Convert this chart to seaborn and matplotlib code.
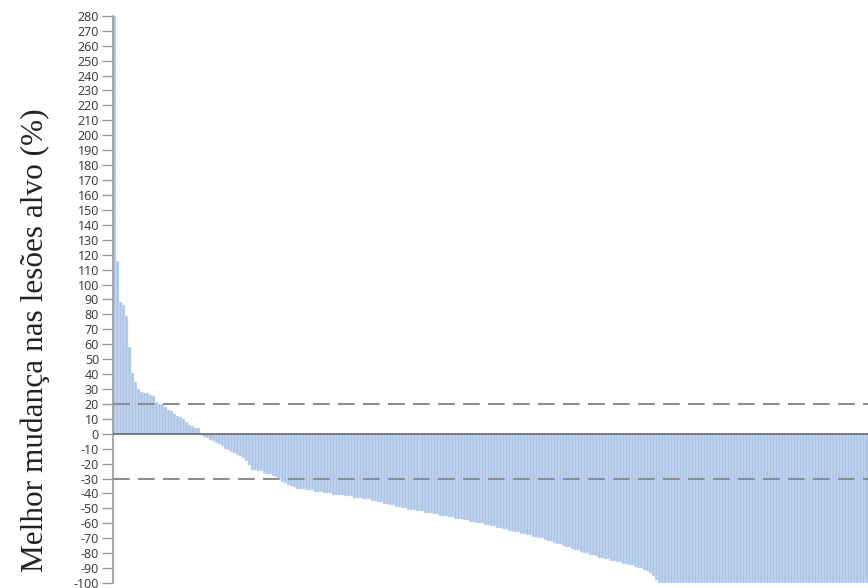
import matplotlib
matplotlib.use("Agg")
import matplotlib.pyplot as plt
import seaborn as sns
import pandas as pd
import numpy as np

# Best percentage change in target lesions, one value per patient, sorted high to low
positive_changes = [
    280, 116, 88, 86, 79, 58, 41, 35, 30, 28,
    27, 27, 26, 25, 21, 20, 20, 18, 16, 15,
    13, 12, 11, 10, 8, 6, 5, 4, 4,
]
negative_changes = [
    -1, -2, -3, -4, -5, -6, -7, -8, -10, -11,
    -12, -13, -14, -15, -16, -18, -21, -24, -24, -25,
    -25, -26, -27, -27, -28, -29, -30, -32, -33, -34,
    -35, -36, -37, -37, -37, -38, -38, -38, -39, -39,
    -39, -40, -40, -40, -41, -41, -41, -41, -42, -42,
    -42, -43, -43, -43, -44, -44, -44, -45, -45, -46,
    -46, -47, -47, -48, -48, -49, -49, -50, -50, -51,
    -51, -51, -52, -52, -52, -53, -53, -53, -54, -54,
    -55, -55, -55, -56, -56, -57, -57, -57, -58, -58,
    -59, -59, -60, -60, -60, -61, -61, -62, -62, -63,
    -63, -64, -64, -65, -65, -66, -66, -67, -67, -68,
    -68, -69, -69, -70, -70, -71, -72, -72, -73, -74,
    -74, -75, -76, -76, -77, -78, -78, -79, -80, -80,
    -81, -81, -82, -83, -83, -84, -84, -85, -85, -86,
    -86, -87, -87, -88, -88, -89, -90, -90, -91, -92,
    -93, -95, -98,
]
complete_response = [-100] * 70

changes = positive_changes + negative_changes + complete_response
patients = list(range(len(changes)))

y_ticks = list(range(-100, 281, 10))
progression_threshold = 20
response_threshold = -30
y_label = "Melhor mudança nas lesões alvo (%)"

df = pd.DataFrame({"patient": patients, "change": changes})

sns.set_style("white")
fig = plt.figure(figsize=(8.68, 5.88), dpi=100)
ax = fig.add_axes([0.130, 0.0085, 0.870, 0.9645])

sns.barplot(data=df, x="patient", y="change", color="#abc4e6", saturation=1,
            width=1.0, edgecolor="#e2ebf7", linewidth=0.35, ax=ax)

ax.set_xlim(-0.5, len(changes) - 0.5)
ax.set_ylim(-100, 280)

ax.axhline(0, color="#5a5f66", linewidth=1.1, zorder=3)
ax.axhline(progression_threshold, color="#8a8d92", linewidth=1.5,
           linestyle=(0, (8, 4)), zorder=3)
ax.axhline(response_threshold, color="#8a8d92", linewidth=1.5,
           linestyle=(0, (8, 4)), zorder=3)

ax.set_yticks(y_ticks)
ax.set_yticklabels([str(t) for t in y_ticks], fontsize=9,
                   color="#333333", family="Open Sans")
ax.tick_params(axis="y", length=8, width=1, color="#9a9a9a", pad=2, left=True)
ax.set_xticks([])
ax.set_xlabel("")
ax.set_ylabel(y_label, family="Liberation Serif", fontsize=22.5, color="#222222")
ax.yaxis.set_label_coords(-0.083, 0.428)

for side in ["top", "right", "bottom"]:
    ax.spines[side].set_visible(False)
ax.spines["left"].set_color("#9a9a9a")
ax.spines["left"].set_linewidth(1.2)

fig.savefig("out.png", dpi=100)
